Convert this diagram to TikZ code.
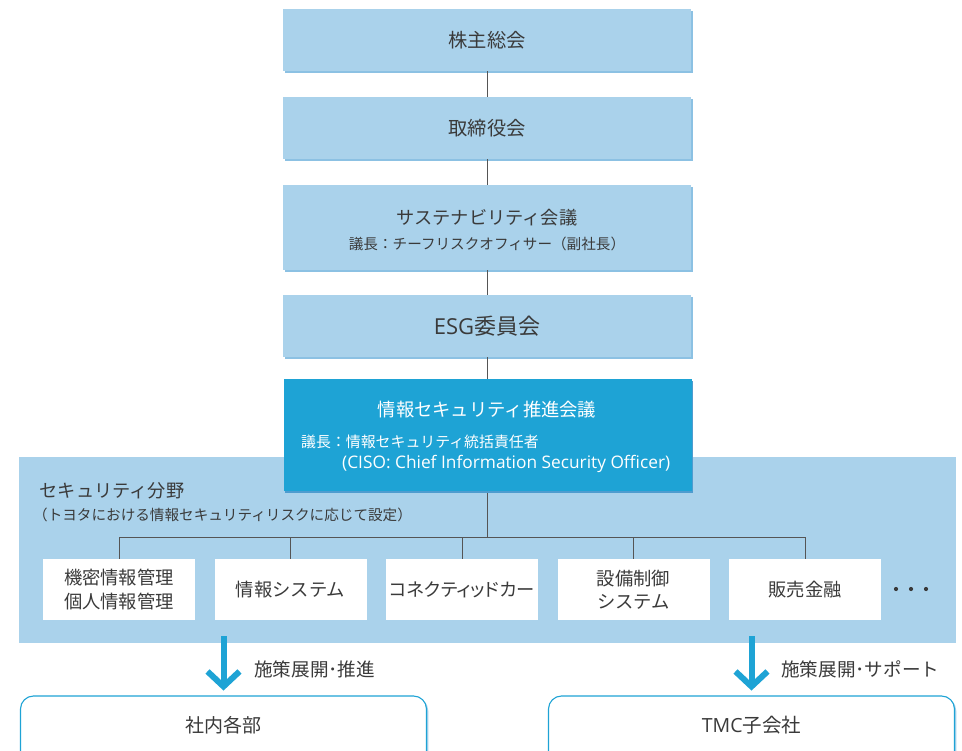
\documentclass[tikz,border=0pt]{standalone}
\usepackage{fontspec}
\setmainfont{Noto Sans CJK JP}
\newfontfamily\latf{Open Sans}
\newfontfamily\paltf[RawFeature=+palt]{Noto Sans CJK JP}
\usetikzlibrary{shadows}
\definecolor{lb}{HTML}{AAD2EB}
\definecolor{lbs}{HTML}{8CC1E3}
\definecolor{db}{HTML}{1EA3D5}
\definecolor{dbs}{HTML}{4E9CCF}
\definecolor{tx}{HTML}{3A3A3A}
\definecolor{ln}{HTML}{555555}
\begin{document}
\begin{tikzpicture}[x=1pt,y=-1pt,
  topbox/.style={rectangle, fill=lb, minimum width=408pt, inner sep=0pt, text=tx,
    general shadow={fill=lbs, shadow xshift=1.6pt, shadow yshift=-1.6pt}},
  darkbox/.style={rectangle, fill=db, minimum width=408pt, inner sep=0pt,
    general shadow={fill=dbs, shadow xshift=1.6pt, shadow yshift=-1.6pt}},
  whitebox/.style={rectangle, fill=white, minimum width=152pt, minimum height=61pt, inner sep=0pt, text=tx, align=center, font=\fontsize{18.3}{23.5}\selectfont},
  botbox/.style={rectangle, rounded corners=13pt, draw=db, line width=1.1pt, fill=white, minimum width=406pt, minimum height=90pt,
    general shadow={fill=lb, shadow xshift=1.8pt, shadow yshift=-1.8pt}},
  ttl/.style={font=\fontsize{18.2}{21}\selectfont, text=tx},
  bigttl/.style={font=\fontsize{19.3}{22}\selectfont, text=tx},
  subt/.style={font=\fontsize{14.6}{17}\selectfont, text=tx},
  conn/.style={draw=ln, line width=0.9pt},
  bluearrow/.style={draw=db, line width=6pt},
  chev/.style={draw=db, line width=6pt, miter limit=10},
]
\useasboundingbox (0,0) rectangle (962,751);
\clip (0,0) rectangle (962,751);

% security region
\node[fill=lb, minimum width=937pt, minimum height=186pt, inner sep=0pt, anchor=north west] (region) at (19,457) {};
\node[ttl, anchor=west, inner sep=0pt] (regt) at (39.5,491) {セキュリティ分野};
\node[subt, anchor=west, inner sep=0pt] (regs) at (33,515) {（トヨタにおける情報セキュリティリスクに応じて設定）};

% top chain
\node[topbox, minimum height=62pt, bigttl] (b1) at (487,40) {株主総会};
\node[topbox, minimum height=62pt, bigttl] (b2) at (487,128) {取締役会};
\node[topbox, minimum height=85pt] (b3) at (487,227.5) {};
\node[ttl] at (487,218) {サステナビリティ会議};
\node[subt] at (487,244) {議長：チーフリスクオフィサー（副社長）};
\node[topbox, minimum height=62pt, font=\fontsize{22}{25}\selectfont] (b4) at (487,326) {{\latf ESG}委員会};

\draw[conn] (b1.south) -- (b2.north);
\draw[conn] (b2.south) -- (b3.north);
\draw[conn] (b3.south) -- (b4.north);
\draw[conn] (b4.south) -- (487,379);

% tree
\coordinate (bus) at (487,537);
\node[whitebox] (w1) at (119,589.5) {機密情報管理\\個人情報管理};
\node[whitebox] (w2) at (290.5,589.5) {情報システム};
\node[whitebox, font=\paltf\fontsize{18.3}{23.5}\selectfont] (w3) at (462,589.5) {コネクティッドカー};
\node[whitebox] (w4) at (633.5,589.5) {設備制御\\システム};
\node[whitebox] (w5) at (805,589.5) {販売金融};
\draw[conn] (487,491) -- (bus);
\draw[conn] (w1.north) -- (w1.north |- bus) -- (w5.north |- bus) -- (w5.north);
\foreach \w in {w2,w3,w4} \draw[conn] (\w.north) -- (\w.north |- bus);
\foreach \xx in {896,911,926} \fill[tx] (\xx,589) circle (2.1pt);

% dark box
\node[darkbox, minimum height=112pt] (b5) at (487.5,435) {};
\node[font=\fontsize{18.3}{21}\selectfont, text=white] at (487,410) {情報セキュリティ推進会議};
\node[font=\fontsize{14.9}{17}\selectfont, text=white, anchor=west, inner sep=0pt] at (301,442) {議長：情報セキュリティ統括責任者};
\node[font=\latf\fontsize{17.3}{19}\selectfont, text=white, anchor=west, inner sep=0pt] at (342,464) {(CISO: Chief Information Security Officer)};

% bottom boxes
\node[botbox] (c1) at (223.5,741) {};
\node[botbox] (c2) at (751.5,741) {};
\node[font=\fontsize{19}{22}\selectfont, text=tx] at ([yshift=-30pt]c1.north) {社内各部};
\node[font=\fontsize{19.5}{22}\selectfont, text=tx] at ([yshift=-30pt]c2.north) {{\latf TMC}子会社};

% arrows
\coordinate (r1) at (c1.north |- region.south);
\coordinate (r2) at (c2.north |- region.south);
\draw[bluearrow] ([yshift=7pt]r1) -- ([yshift=10pt]c1.north);
\draw[chev] ([shift={(-16pt,24pt)}]c1.north) -- ([yshift=9pt]c1.north) -- ([shift={(16pt,24pt)}]c1.north);
\draw[bluearrow] ([yshift=7pt]r2) -- ([yshift=10pt]c2.north);
\draw[chev] ([shift={(-16pt,24pt)}]c2.north) -- ([yshift=9pt]c2.north) -- ([shift={(16pt,24pt)}]c2.north);
\node[font=\fontsize{18.6}{21}\selectfont, text=tx, anchor=west, inner sep=0pt] at (254,669) {施策展開･推進};
\node[font=\fontsize{18.6}{21}\selectfont, text=tx, anchor=west, inner sep=0pt] at (781,669) {施策展開･サポート};
\end{tikzpicture}
\end{document}
